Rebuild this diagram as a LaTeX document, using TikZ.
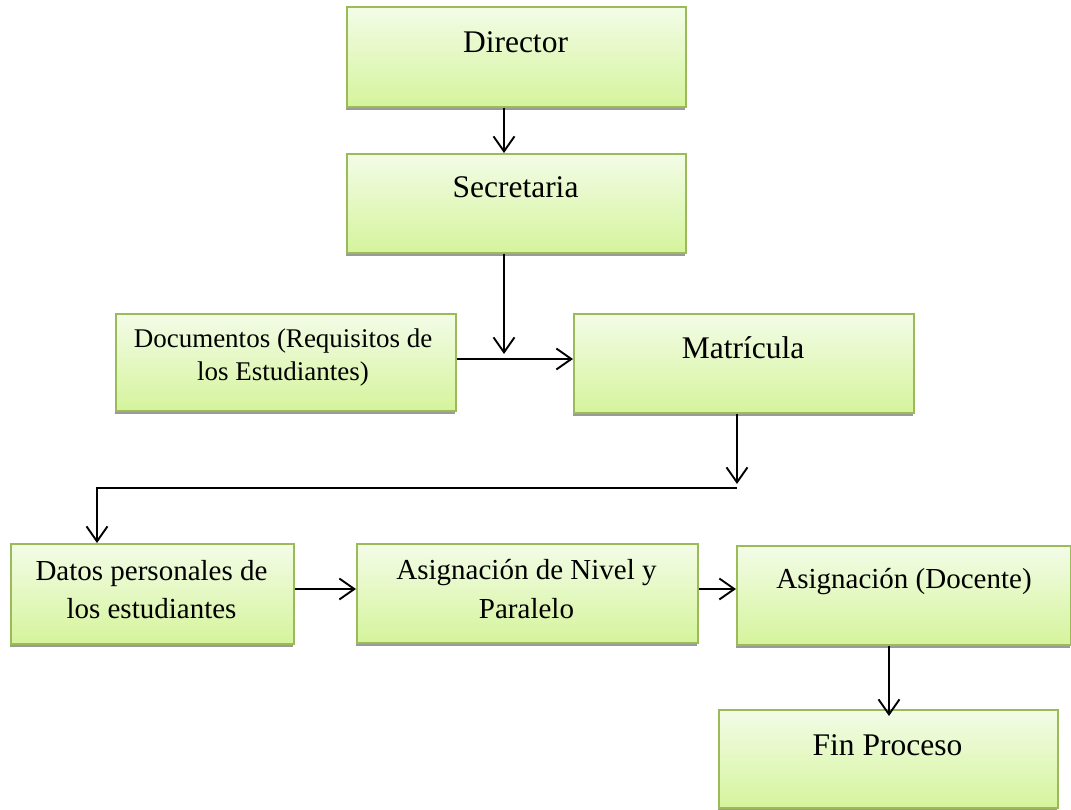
\documentclass[tikz,border=0pt]{standalone}
\usepackage{fontspec}
\setmainfont{Liberation Serif}
\usetikzlibrary{arrows.meta,shadows}
\definecolor{boxtop}{HTML}{F3FCE7}
\definecolor{boxbot}{HTML}{D5F49C}
\definecolor{boxline}{HTML}{9BBB59}
\definecolor{shadowgray}{HTML}{9A9A9A}
\begin{document}
\begin{tikzpicture}[x=1pt,y=-1pt,
  stepbox/.style={draw=boxline, line width=1.5pt, top color=boxtop, bottom color=boxbot,
    inner sep=0pt, anchor=north west,
    drop shadow={shadow xshift=-1pt, shadow yshift=-3pt, fill=shadowgray, opacity=1}},
  txt/.style={anchor=base, inner sep=0pt},
  big/.style={txt, font=\fontsize{31.5}{36}\selectfont},
  mid/.style={txt, font=\fontsize{29}{34}\selectfont},
  small/.style={txt, font=\fontsize{27}{32}\selectfont},
  arr/.style={line width=1.9pt, -{Straight Barb[length=15pt,width=21pt,line width=1.9pt]}}]
\useasboundingbox (0,0) rectangle (1071,809);

% boxes
\node[stepbox, minimum width=339pt, minimum height=100pt] (dir) at (346,6) {};
\node[stepbox, minimum width=339pt, minimum height=99pt]  (sec) at (346,153) {};
\node[stepbox, minimum width=340pt, minimum height=97pt]  (doc) at (115,313) {};
\node[stepbox, minimum width=340pt, minimum height=99pt]  (mat) at (573,313) {};
\node[stepbox, minimum width=283pt, minimum height=100pt] (dat) at (10,543) {};
\node[stepbox, minimum width=341pt, minimum height=99pt]  (niv) at (356,543) {};
\node[stepbox, minimum width=334pt, minimum height=99pt]  (asd) at (736,545) {};
\node[stepbox, minimum width=339pt, minimum height=98pt]  (fin) at (718,709) {};

% labels
\node[big] (dir-t) at (515.5,52) {Director};
\node[big] (sec-t) at (515.5,197) {Secretaria};
\node[small] (doc-t1) at (283,347) {Documentos (Requisitos de};
\node[small] (doc-t2) at (283,380) {los Estudiantes)};
\node[big] (mat-t) at (743,358) {Matrícula};
\node[mid] (dat-t1) at (151.5,580) {Datos personales de};
\node[mid] (dat-t2) at (151.5,618) {los estudiantes};
\node[mid] (niv-t1) at (526.5,579) {Asignación de Nivel y};
\node[mid] (niv-t2) at (526.5,618) {Paralelo};
\node[mid] (asd-t) at (904,588) {Asignación (Docente)};
\node[big] (fin-t) at (887.5,755) {Fin Proceso};

% routing points
\coordinate (cx1) at (504,0);
\coordinate (jn) at (504,354);
\coordinate (hy) at (0,359);
\coordinate (cx2) at (737,0);
\coordinate (mt) at (737,484);
\coordinate (b1) at (737,488);
\coordinate (b2) at (97,488);
\coordinate (hy2) at (0,589);
\coordinate (cx3) at (889,0);

% connectors
\draw[arr] (dir.south -| cx1) -- (sec.north -| cx1);
\draw[arr] (sec.south -| cx1) -- (jn);
\draw[arr] (doc.east |- hy) -- (mat.west |- hy);
\draw[arr] (mat.south -| cx2) -- (mt);
\draw[arr] (b1) -- (b2) -- (dat.north -| b2);
\draw[arr] (dat.east |- hy2) -- (niv.west |- hy2);
\draw[arr] (niv.east |- hy2) -- (asd.west |- hy2);
\draw[arr] (asd.south -| cx3) -- ([yshift=-7pt]fin.north -| cx3);
\end{tikzpicture}
\end{document}
